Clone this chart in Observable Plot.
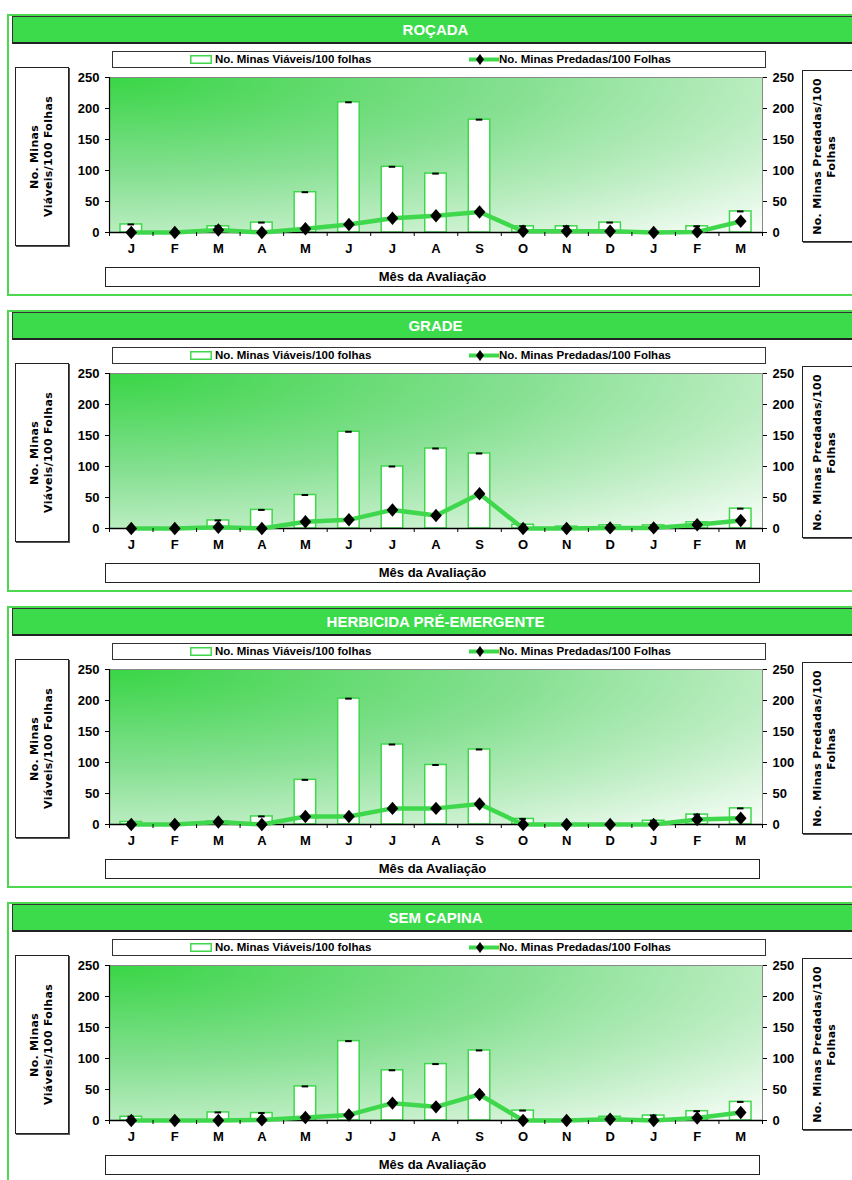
<!DOCTYPE html>
<html>
<head>
<meta charset="utf-8">
<script src="https://cdn.jsdelivr.net/npm/d3@7"></script>
<script src="https://cdn.jsdelivr.net/npm/@observablehq/plot@0.6"></script>
<style>
  html, body { margin: 0; padding: 0; width: 852px; height: 1180px; overflow: hidden; background: #fff; }
  body { position: relative; font-family: "Liberation Sans", Arial, sans-serif; }
  .panel { position: absolute; left: 0; width: 852px; height: 296px; }
  .border { position: absolute; left: 7px; top: 14px; width: 900px; height: 278px; border: 2px solid #4cd94f; }
  .titlebar { position: absolute; left: 12px; top: 16px; width: 845px; height: 25px; background: #3bdb4b;
    border: 1px solid #333; border-bottom: 2px solid #222; color: #fff; font-weight: bold; font-size: 15px;
    line-height: 25px; text-align: center; }
  .legend { position: absolute; left: 112px; top: 51px; width: 652px; height: 15px; border: 1px solid #333; background: #fff;
    font-weight: bold; font-size: 11.5px; line-height: 15px; }
  .legend span, .legend svg { position: absolute; top: 0; }
  .ybox { position: absolute; background: #fff; border: 1.5px solid #222; box-shadow: 1px 1px 0 #555;
    display: flex; align-items: center; justify-content: center; }
  .ybox div { writing-mode: vertical-rl; transform: rotate(180deg); font-family: "DejaVu Sans", sans-serif;
    font-weight: bold; font-size: 11px; line-height: 14px; text-align: center; letter-spacing: 0.3px; }
  .ybox.left { left: 15px; top: 67px; width: 52px; height: 177px; }
  .ybox.right { left: 802px; top: 70px; width: 60px; height: 172px; justify-content: flex-start; padding-left: 8px; box-sizing: border-box; }
  .chart { position: absolute; left: 0; top: 67px; }
  .xtitle { position: absolute; left: 105px; top: 267px; width: 653px; height: 18px; border: 1.5px solid #222; background: #fff;
    font-weight: bold; font-size: 13px; line-height: 18px; text-align: center; }
</style>
</head>
<body>
<svg width="0" height="0" style="position:absolute">
  <defs>
    <radialGradient id="plotGradient" gradientUnits="objectBoundingBox" cx="0" cy="0" fx="0" fy="0" r="1.414">
      <stop offset="0" stop-color="#39d546"/>
      <stop offset="0.45" stop-color="#86e092"/>
      <stop offset="0.75" stop-color="#c3efc8"/>
      <stop offset="1" stop-color="#fbfefb"/>
    </radialGradient>
  </defs>
</svg>
<script>
const months = ["J","F","M","A","M","J","J","A","S","O","N","D","J","F","M"];
const titles = ["ROÇADA","GRADE","HERBICIDA PRÉ-EMERGENTE","SEM CAPINA"];
const yTicks = [0, 50, 100, 150, 200, 250];
const legendViaveis = "No. Minas Viáveis/100 folhas";
const legendPredadas = "No. Minas Predadas/100 Folhas";
const yLabelLeft = ["No. Minas", "Viáveis/100 Folhas"];
const yLabelRight = ["No. Minas Predadas/100", "Folhas"];
const xTitle = "Mês da Avaliação";

const viaveisRocada     = [13, 0, 10, 16, 65, 210, 106, 95, 182, 10, 10, 16, 0, 10, 34];
const predadasRocada    = [0, 0, 4, 0, 6, 13, 23, 27, 33, 2, 2, 2, 0, 1, 18];
const viaveisGrade      = [0, 0, 13, 30, 54, 156, 100, 129, 121, 6, 3, 5, 5, 10, 32];
const predadasGrade     = [0, 0, 2, 0, 11, 14, 30, 21, 56, 0, 0, 1, 1, 6, 13];
const viaveisHerbicida  = [4, 0, 5, 13, 72, 203, 129, 96, 121, 9, 0, 0, 6, 16, 26];
const predadasHerbicida = [0, 0, 4, 0, 13, 13, 26, 26, 33, 0, 0, 0, 0, 8, 10];
const viaveisSemCapina  = [6, 0, 13, 12, 55, 128, 81, 91, 113, 16, 0, 6, 8, 15, 30];
const predadasSemCapina = [0, 0, 0, 1, 5, 9, 28, 22, 42, 0, 0, 2, 0, 4, 13];

const series = [
  [viaveisRocada, predadasRocada],
  [viaveisGrade, predadasGrade],
  [viaveisHerbicida, predadasHerbicida],
  [viaveisSemCapina, predadasSemCapina]
];

const GREEN = "#3fd84c";
const rhombus = {
  draw(ctx, size) {
    const w = Math.sqrt(size) * 0.6, h = w * 1.15;
    ctx.moveTo(0, -h); ctx.lineTo(w, 0); ctx.lineTo(0, h); ctx.lineTo(-w, 0); ctx.closePath();
  }
};

function makeChart(viaveis, predadas) {
  const data = months.map((m, i) => ({i, m, v: viaveis[i], p: predadas[i]}));
  const boundaries = d3.range(months.length + 1);
  const centers = d3.range(months.length).map(i => i + 0.5);
  return Plot.plot({
    width: 800, height: 190,
    marginTop: 10, marginLeft: 109, marginRight: 38, marginBottom: 25,
    x: {domain: [0, months.length], axis: null},
    y: {domain: [0, 250], axis: null},
    style: {fontFamily: "'Liberation Sans', Arial, sans-serif", fontWeight: "bold", fontSize: "13px",
      color: "#000", background: "transparent", overflow: "visible"},
    marks: [
      Plot.frame({fill: "url(#plotGradient)", stroke: "#888"}),
      Plot.rectY(data, {x1: "i", x2: d => d.i + 1, y: "v", fill: "#fff", stroke: GREEN, strokeWidth: 1.5,
        insetLeft: 11, insetRight: 11}),
      Plot.ruleY(data.filter(d => d.v > 0), {y: "v", x1: "i", x2: d => d.i + 1, insetLeft: 18.5, insetRight: 18.5,
        stroke: "#000", strokeWidth: 2}),
      Plot.ruleX([0], {stroke: "#000", strokeWidth: 1.2}),
      Plot.ruleY([0], {stroke: "#000", strokeWidth: 1.5}),
      Plot.line(data, {x: d => d.i + 0.5, y: "p", stroke: GREEN, strokeWidth: 4.5}),
      Plot.dot(data, {x: d => d.i + 0.5, y: "p", symbol: rhombus, r: 5.5, fill: "#000", stroke: null}),
      Plot.axisY({anchor: "left", ticks: yTicks, tickSize: 4, tickPadding: 6, label: null}),
      Plot.axisY({anchor: "right", ticks: yTicks, tickSize: 4, tickPadding: 6, label: null}),
      Plot.axisX({ticks: boundaries, tickSize: 4, tickFormat: () => "", label: null}),
      Plot.axisX({ticks: centers, tickSize: 0, tickPadding: 11, tickFormat: d => months[Math.floor(d)], label: null})
    ]
  });
}

titles.forEach((title, k) => {
  const panel = document.createElement("div");
  panel.className = "panel";
  panel.style.top = (k * 296) + "px";
  panel.innerHTML = `
    <div class="border"></div>
    <div class="titlebar">${title}</div>
    <div class="legend">
      <svg style="left:77px;top:3px" width="22" height="9"><rect x="0.75" y="0.75" width="20.5" height="7.5" fill="#fff" stroke="${GREEN}" stroke-width="1.5"/></svg>
      <span style="left:102px">${legendViaveis}</span>
      <svg style="left:356px;top:1px" width="30" height="13"><line x1="0" y1="6.5" x2="30" y2="6.5" stroke="${GREEN}" stroke-width="4"/><path d="M11,1 L15,6.5 L11,12 L7,6.5 Z" fill="#000"/></svg>
      <span style="left:386px">${legendPredadas}</span>
    </div>
    <div class="ybox left"><div>${yLabelLeft.join("<br>")}</div></div>
    <div class="ybox right"><div>${yLabelRight.join("<br>")}</div></div>
    <div class="chart"></div>
    <div class="xtitle">${xTitle}</div>`;
  document.body.appendChild(panel);
  panel.querySelector(".chart").appendChild(makeChart(series[k][0], series[k][1]));
});
</script>
</body>
</html>
